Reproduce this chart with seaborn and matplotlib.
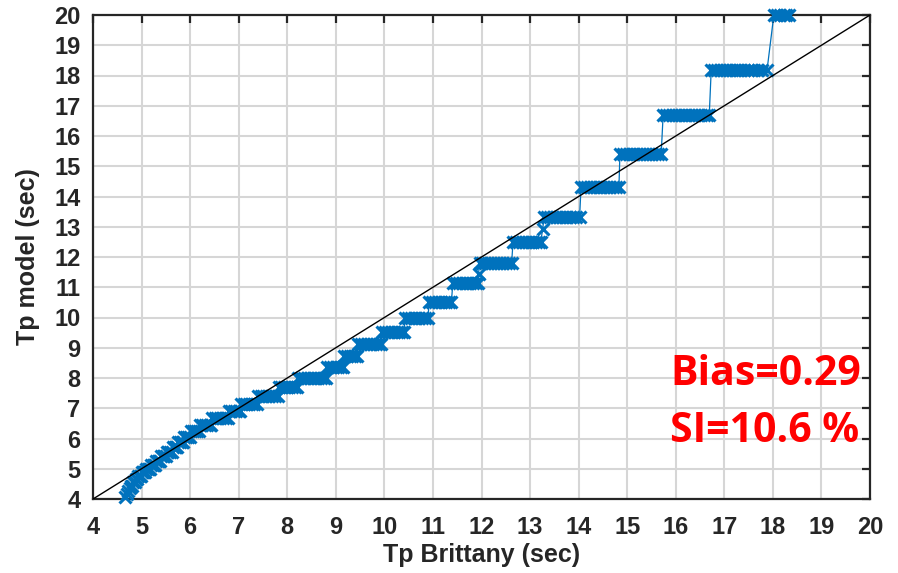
import matplotlib
matplotlib.use("Agg")
import matplotlib.pyplot as plt
import seaborn as sns
import pandas as pd
from matplotlib import font_manager

# Discrete model peak-period levels (sec), ascending
tp_model_levels = [
    4.08, 4.17, 4.26, 4.35, 4.44, 4.55, 4.65, 4.76, 4.88, 5.00,
    5.13, 5.26, 5.41, 5.56, 5.71, 5.88, 6.06, 6.25, 6.45, 6.67,
    6.90, 7.14, 7.42, 7.69, 8.00, 8.36, 8.73, 9.12, 9.52, 9.98,
    10.51, 11.14, 11.45, 11.80, 12.50, 12.93, 13.32, 14.31, 15.40,
    16.69, 18.18, 20.00,
]

# Observed (Brittany) quantiles falling on each model level
tp_brittany_quantiles = [
    [4.66],
    [4.70],
    [4.73],
    [4.76],
    [4.79, 4.81],
    [4.83, 4.86],
    [4.88, 4.91],
    [4.93, 4.96, 4.98],
    [5.00, 5.03, 5.06, 5.08],
    [5.10, 5.13, 5.16, 5.18],
    [5.20, 5.23, 5.26, 5.28],
    [5.30, 5.33, 5.36, 5.38],
    [5.40, 5.44, 5.47, 5.50],
    [5.52, 5.55, 5.59, 5.62],
    [5.64, 5.68, 5.71, 5.74],
    [5.76, 5.79, 5.83, 5.86],
    [5.88, 5.92, 5.96, 6.00],
    [6.02, 6.06, 6.10, 6.14, 6.18],
    [6.20, 6.25, 6.30, 6.35, 6.40, 6.44],
    [6.46, 6.51, 6.56, 6.62, 6.67, 6.73, 6.78],
    [6.80, 6.85, 6.90, 6.95, 7.00, 7.03],
    [7.05, 7.10, 7.16, 7.21, 7.27, 7.32, 7.38],
    [7.40, 7.46, 7.51, 7.57, 7.63, 7.69, 7.74, 7.80],
    [7.82, 7.88, 7.93, 7.99, 8.04, 8.10, 8.15, 8.20],
    [8.22, 8.28, 8.34, 8.40, 8.46, 8.52, 8.57, 8.63, 8.69, 8.75, 8.80],
    [8.82, 8.88, 8.94, 9.00, 9.05, 9.11, 9.15],
    [9.17, 9.23, 9.29, 9.34, 9.40, 9.44],
    [9.46, 9.52, 9.58, 9.64, 9.70, 9.76, 9.82, 9.88, 9.93],
    [9.95, 10.01, 10.07, 10.13, 10.19, 10.25, 10.30, 10.36, 10.41],
    [10.42, 10.48, 10.54, 10.60, 10.66, 10.72, 10.78, 10.84, 10.90],
    [10.92, 10.98, 11.04, 11.10, 11.16, 11.22, 11.27, 11.33, 11.38],
    [11.41, 11.47, 11.53, 11.59, 11.65, 11.71, 11.77, 11.83, 11.88, 11.92],
    [11.94],
    [11.96, 12.02, 12.08, 12.14, 12.20, 12.26, 12.32, 12.38, 12.44, 12.50, 12.56, 12.62],
    [12.65, 12.71, 12.77, 12.83, 12.89, 12.95, 13.01, 13.07, 13.13, 13.18, 13.22],
    [13.26],
    [13.29, 13.35, 13.41, 13.47, 13.53, 13.59, 13.65, 13.71, 13.77, 13.83, 13.89, 13.95, 14.02],
    [14.05, 14.11, 14.17, 14.23, 14.29, 14.35, 14.41, 14.47, 14.53, 14.59, 14.65, 14.71, 14.77, 14.83],
    [14.85, 14.91, 14.97, 15.03, 15.09, 15.15, 15.21, 15.27, 15.33, 15.39, 15.45, 15.51, 15.57, 15.63, 15.70],
    [15.74, 15.80, 15.86, 15.92, 15.98, 16.04, 16.10, 16.16, 16.22, 16.28, 16.34, 16.40, 16.46, 16.52, 16.58, 16.64, 16.69],
    [16.73, 16.79, 16.85, 16.91, 16.97, 17.03, 17.09, 17.15, 17.21, 17.27, 17.33, 17.40, 17.48, 17.55, 17.62, 17.70, 17.78, 17.88],
    [18.02, 18.08, 18.15, 18.22, 18.28, 18.33],
]

axis_ticks = list(range(4, 21))
stats_lines = ["Bias=0.29", "SI=10.6 %"]

# Long-form table of the quantile pairs, in plotting order
rows = []
for level, xs in zip(tp_model_levels, tp_brittany_quantiles):
    for xv in xs:
        rows.append({"Tp Brittany (sec)": xv, "Tp model (sec)": level})
qq = pd.DataFrame(rows)

sns.set_style("white")
available = {f.name for f in font_manager.fontManager.ttflist}
label_font = "Liberation Sans Narrow" if "Liberation Sans Narrow" in available else "Liberation Sans"
plt.rcParams["font.family"] = [label_font, "DejaVu Sans"]

fig = plt.figure(figsize=(8.98, 5.73), dpi=100)
ax = fig.add_axes([93 / 898, 1 - 499 / 573, (870 - 93) / 898, (499 - 15) / 573])

blue = "#0072BD"
sns.lineplot(
    data=qq, x="Tp Brittany (sec)", y="Tp model (sec)",
    sort=False, estimator=None, ax=ax,
    color=blue, linewidth=0.9,
    marker="x", markersize=9.3, markeredgewidth=2.2,
    markeredgecolor=blue, markerfacecolor=blue,
    zorder=3, clip_on=False,
)

# 1:1 reference line
ax.axline((4, 4), slope=1, color="black", linewidth=1.0, zorder=4)

ax.set_xlim(4, 20)
ax.set_ylim(4, 20)
ax.set_xticks(axis_ticks)
ax.set_yticks(axis_ticks)
ax.grid(True, color="#d6d6d6", linewidth=1.5, zorder=0)
ax.set_axisbelow(True)

for spine in ax.spines.values():
    spine.set_visible(True)
    spine.set_color("#262626")
    spine.set_linewidth(1.6)

ax.tick_params(axis="both", which="major", direction="in", length=6, width=1.6,
               top=True, right=True, colors="#262626", labelsize=17)
ax.tick_params(axis="x", pad=12)
ax.tick_params(axis="y", pad=9)
for lab in ax.get_xticklabels() + ax.get_yticklabels():
    lab.set_fontweight("bold")
    lab.set_color("#262626")

ax.set_xlabel("Tp Brittany (sec)", fontsize=18, fontweight="bold", color="#262626", labelpad=3)
ax.set_ylabel("Tp model (sec)", fontsize=18, fontweight="bold", color="#262626", labelpad=10)

fig.text(670 / 898, 1 - 385 / 573, stats_lines[0], color="#FF0000", fontsize=29.5,
         fontweight="bold", family=["Open Sans", "DejaVu Sans"], ha="left", va="baseline")
fig.text(670 / 898, 1 - 442 / 573, stats_lines[1], color="#FF0000", fontsize=29.5,
         fontweight="bold", family=["Open Sans", "DejaVu Sans"], ha="left", va="baseline")

fig.savefig("out.png", dpi=100)
